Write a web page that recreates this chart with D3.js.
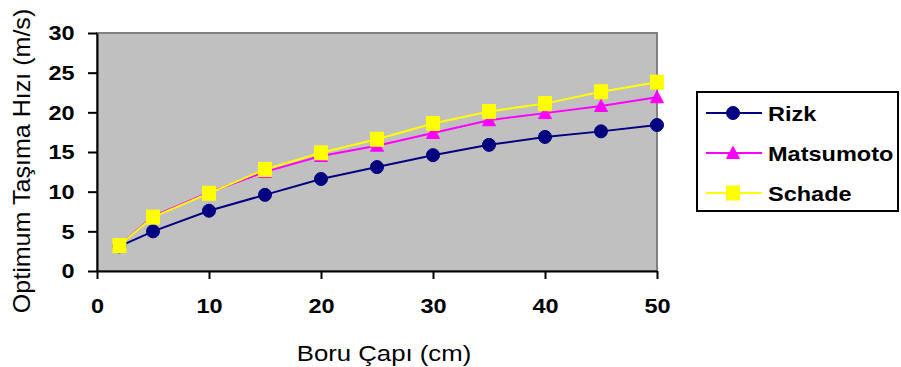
<!DOCTYPE html>
<html>
<head>
<meta charset="utf-8">
<script src="https://cdn.jsdelivr.net/npm/d3@7"></script>
<style>
  html, body { margin: 0; padding: 0; background: #fff; }
  svg { display: block; font-family: "Liberation Sans", Arial, sans-serif; }
</style>
</head>
<body>
<svg id="chart" width="901" height="367"></svg>
<script>
// Pipe diameter (cm)
const diameters = [2, 5, 10, 15, 20, 25, 30, 35, 40, 45, 50];
// Optimum conveying velocity (m/s) per model
const rizk      = [3.1, 5.0, 7.6, 9.6, 11.6, 13.1, 14.6, 15.9, 16.9, 17.6, 18.4];
const matsumoto = [3.2, 6.9, 9.9, 12.5, 14.5, 15.8, 17.4, 19.0, 19.9, 20.8, 21.9];
const schade    = [3.2, 6.8, 9.8, 12.8, 14.9, 16.6, 18.6, 20.1, 21.1, 22.6, 23.8];
const seriesNames = ["Rizk", "Matsumoto", "Schade"];
const xTicks = [0, 10, 20, 30, 40, 50];
const yTicks = [0, 5, 10, 15, 20, 25, 30];
const xTitle = "Boru Çapı (cm)";
const yTitle = "Optimum Taşıma Hızı (m/s)";

const series = [
  { name: seriesNames[0], values: rizk,      color: "#000080", symbol: "circle" },
  { name: seriesNames[1], values: matsumoto, color: "#FF00FF", symbol: "triangle" },
  { name: seriesNames[2], values: schade,    color: "#FFFF00", symbol: "square" }
];

// Text is drawn slightly wide, like the original spreadsheet rendering
const WIDE = 1.12;

const svg = d3.select("#chart");
const plot = { left: 97, top: 33, right: 657, bottom: 271 };

const x = d3.scaleLinear().domain([0, 50]).range([plot.left, plot.right]);
const y = d3.scaleLinear().domain([0, 30]).range([plot.bottom, plot.top]);

// Plot area background with grey frame
svg.append("rect")
  .attr("x", plot.left).attr("y", plot.top)
  .attr("width", plot.right - plot.left).attr("height", plot.bottom - plot.top)
  .attr("fill", "#C0C0C0").attr("stroke", "#808080").attr("stroke-width", 2);

// Axes
const xAxis = svg.append("g")
  .attr("transform", `translate(0,${plot.bottom})`)
  .call(d3.axisBottom(x).tickValues(xTicks).tickSize(8).tickPadding(19).tickSizeOuter(0));
const yAxis = svg.append("g")
  .attr("transform", `translate(${plot.left},0)`)
  .call(d3.axisLeft(y).tickValues(yTicks).tickSize(9).tickPadding(11).tickSizeOuter(0));

[xAxis, yAxis].forEach(g => {
  g.select(".domain").attr("stroke", "#000").attr("stroke-width", 2);
  g.selectAll(".tick line").attr("stroke", "#000").attr("stroke-width", 2);
  g.selectAll(".tick text")
    .attr("fill", "#000")
    .attr("transform", `scale(${WIDE},1)`)
    .style("font-family", "'Liberation Sans', Arial, sans-serif")
    .style("font-size", "21px")
    .style("font-weight", "bold");
});

// Line + markers for each model
const line = d3.line()
  .x((d, i) => x(diameters[i]))
  .y(d => y(d));

function drawMarker(g, symbol, color, cx, cy) {
  if (symbol === "circle") {
    g.append("circle").attr("cx", cx).attr("cy", cy).attr("r", 6.5)
      .attr("fill", color).attr("stroke", color);
  } else if (symbol === "triangle") {
    const s = 6.5;
    g.append("path")
      .attr("d", `M${cx},${cy - s}L${cx + s},${cy + s * 0.85}L${cx - s},${cy + s * 0.85}Z`)
      .attr("fill", color).attr("stroke", color);
  } else {
    g.append("rect").attr("x", cx - 7).attr("y", cy - 7.5)
      .attr("width", 14).attr("height", 15).attr("fill", color);
  }
}

series.forEach(s => {
  const g = svg.append("g");
  g.append("path")
    .datum(s.values)
    .attr("d", line)
    .attr("fill", "none")
    .attr("stroke", s.color)
    .attr("stroke-width", 2);
  s.values.forEach((v, i) => drawMarker(g, s.symbol, s.color, x(diameters[i]), y(v)));
});

// Axis titles
svg.append("text")
  .attr("transform", `translate(384,361) scale(${WIDE},1)`)
  .attr("text-anchor", "middle")
  .style("font-size", "23px")
  .text(xTitle);

svg.append("text")
  .attr("transform", "translate(30,161) rotate(-90) scale(1.09,1)")
  .attr("text-anchor", "middle")
  .style("font-size", "23px")
  .text(yTitle);

// Legend
const legend = svg.append("g");
legend.append("rect")
  .attr("x", 697).attr("y", 92).attr("width", 201).attr("height", 119)
  .attr("fill", "#fff").attr("stroke", "#000").attr("stroke-width", 2);

series.forEach((s, i) => {
  const cy = 113 + i * 40;
  legend.append("line")
    .attr("x1", 706).attr("x2", 762).attr("y1", cy).attr("y2", cy)
    .attr("stroke", s.color).attr("stroke-width", 2);
  drawMarker(legend, s.symbol, s.color, 733, cy);
  legend.append("text")
    .attr("transform", `translate(768,${cy + 7.5}) scale(${WIDE},1)`)
    .style("font-size", "21px")
    .style("font-weight", "bold")
    .text(s.name);
});
</script>
</body>
</html>
